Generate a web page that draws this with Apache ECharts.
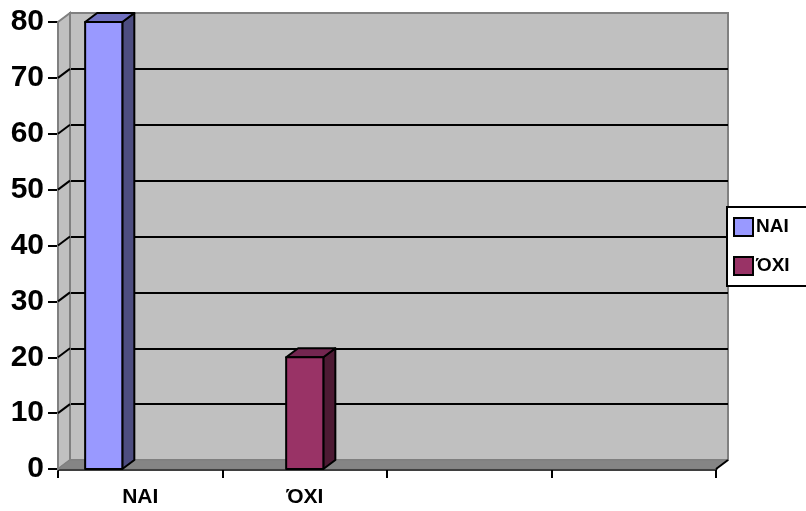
<!DOCTYPE html>
<html>
<head>
<meta charset="utf-8">
<script src="https://cdn.jsdelivr.net/npm/echarts@6/dist/echarts.min.js"></script>
<style>
  html, body { margin: 0; padding: 0; background: #fff; }
  #chart { width: 806px; height: 511px; }
</style>
</head>
<body>
<div id="chart"></div>
<script>
// 数据
const categories = ['ΝΑΙ', 'ΌΧΙ', '', ''];
const seriesNames = ['ΝΑΙ', 'ΌΧΙ'];
const naiValues = [80, null, null, null];
const oxiValues = [null, 20, null, null];
const yTickValues = [0, 10, 20, 30, 40, 50, 60, 70, 80];

// 3D 深度偏移（像素）
const DX = 12;
const DY = 9;

function toItems(values) {
  return values.map((v, i) => [i, v]).filter(d => d[1] != null);
}

// 立体柱子
function makeBarRender(offset, widthFrac, colors) {
  return function (params, api) {
    const x = api.value(0);
    const v = api.value(1);
    const base = api.coord([x, 0]);
    const top = api.coord([x, v]);
    const band = api.size([1, 0])[0];
    const w = band * widthFrac;
    const left = base[0] + offset * band - w / 2;
    const right = left + w;
    const line = { stroke: '#000', lineWidth: 2, lineJoin: 'round' };
    return {
      type: 'group',
      children: [
        {
          type: 'polygon',
          shape: { points: [[right, top[1]], [right + DX, top[1] - DY], [right + DX, base[1] - DY], [right, base[1]]] },
          style: Object.assign({ fill: colors.side }, line)
        },
        {
          type: 'polygon',
          shape: { points: [[left, top[1]], [left + DX, top[1] - DY], [right + DX, top[1] - DY], [right, top[1]]] },
          style: Object.assign({ fill: colors.top }, line)
        },
        {
          type: 'rect',
          shape: { x: left, y: top[1], width: w, height: base[1] - top[1] },
          style: Object.assign({ fill: colors.front }, line)
        }
      ]
    };
  };
}

// 侧墙和地板
function renderWalls(params, api) {
  const cs = params.coordSys;
  const x0 = cs.x, x1 = cs.x + cs.width;
  const yb = cs.y + cs.height, yt = cs.y;
  const children = [
    {
      type: 'polygon',
      shape: { points: [[x0, yb], [x0, yt], [x0 + DX, yt - DY], [x0 + DX, yb - DY]] },
      style: { fill: '#c0c0c0', stroke: '#808080', lineWidth: 2 }
    },
    {
      type: 'polygon',
      shape: { points: [[x0, yb], [x0 + DX, yb - DY], [x1 + DX, yb - DY], [x1, yb]] },
      style: { fill: '#858585', stroke: '#808080', lineWidth: 1 }
    },
    {
      type: 'line',
      shape: { x1: x1, y1: yb, x2: x1 + DX, y2: yb - DY },
      style: { stroke: '#000', lineWidth: 2 }
    }
  ];
  yTickValues.slice(1, -1).forEach(v => {
    const y = api.coord([0, v])[1];
    children.push({
      type: 'line',
      shape: { x1: x0, y1: y, x2: x0 + DX, y2: y - DY },
      style: { stroke: '#000', lineWidth: 2 }
    });
  });
  return { type: 'group', children: children };
}

const chart = echarts.init(document.getElementById('chart'));

const option = {
  animation: false,
  textStyle: { fontFamily: 'Liberation Sans, Arial, sans-serif' },
  grid: [
    { left: 58, top: 22, right: 90, bottom: 42 },
    { left: 58 + DX, top: 22 - DY, right: 90 - DX, bottom: 42 + DY,
      show: true, backgroundColor: '#c0c0c0', borderColor: '#808080', borderWidth: 2 }
  ],
  legend: {
    data: seriesNames,
    orient: 'vertical',
    left: 727,
    top: 207,
    icon: 'rect',
    itemWidth: 19,
    itemHeight: 18,
    itemGap: 19,
    padding: [10, 30, 10, 6],
    borderColor: '#000',
    borderWidth: 2,
    borderRadius: 0,
    backgroundColor: '#fff',
    itemStyle: { borderColor: '#000', borderWidth: 2 },
    textStyle: { color: '#000', fontSize: 19, fontWeight: 'bold', lineHeight: 18, padding: [0, 0, 0, -2] }
  },
  xAxis: [
    {
      type: 'category',
      gridIndex: 0,
      data: categories,
      boundaryGap: true,
      axisLine: { lineStyle: { color: '#000', width: 2.5 } },
      axisTick: { show: true, interval: 0, alignWithLabel: false, length: 9, lineStyle: { color: '#000', width: 2 } },
      axisLabel: { interval: 0, color: '#000', fontSize: 21, fontWeight: 'bold', margin: 18 },
      splitLine: { show: false }
    },
    {
      type: 'category',
      gridIndex: 1,
      data: categories,
      show: false
    }
  ],
  yAxis: [
    {
      type: 'value',
      gridIndex: 0,
      min: 0,
      max: 80,
      interval: 10,
      axisLine: { show: true, lineStyle: { color: '#000', width: 2 } },
      axisTick: { show: true, length: 10, lineStyle: { color: '#000', width: 2 } },
      axisLabel: { color: '#000', fontSize: 30, fontWeight: 'bold', margin: 14 },
      splitLine: { show: false }
    },
    {
      type: 'value',
      gridIndex: 1,
      min: 0,
      max: 80,
      interval: 10,
      axisLine: { show: false },
      axisTick: { show: false },
      axisLabel: { show: false },
      splitLine: { show: true, showMinLine: false, showMaxLine: false, lineStyle: { color: '#000', width: 2 } }
    }
  ],
  series: [
    {
      name: 'walls',
      type: 'custom',
      xAxisIndex: 0,
      yAxisIndex: 0,
      silent: true,
      z: 1,
      data: [[0, 0]],
      renderItem: renderWalls
    },
    {
      name: seriesNames[0],
      type: 'custom',
      xAxisIndex: 0,
      yAxisIndex: 0,
      z: 3,
      itemStyle: { color: '#9999ff' },
      data: toItems(naiValues),
      encode: { x: 0, y: 1 },
      renderItem: makeBarRender(-0.222, 0.226, { front: '#9999ff', top: '#7070c0', side: '#4d4d80' })
    },
    {
      name: seriesNames[1],
      type: 'custom',
      xAxisIndex: 0,
      yAxisIndex: 0,
      z: 3,
      itemStyle: { color: '#993366' },
      data: toItems(oxiValues),
      encode: { x: 0, y: 1 },
      renderItem: makeBarRender(0, 0.226, { front: '#993366', top: '#732650', side: '#4d1a33' })
    }
  ]
};

chart.setOption(option);
</script>
</body>
</html>
